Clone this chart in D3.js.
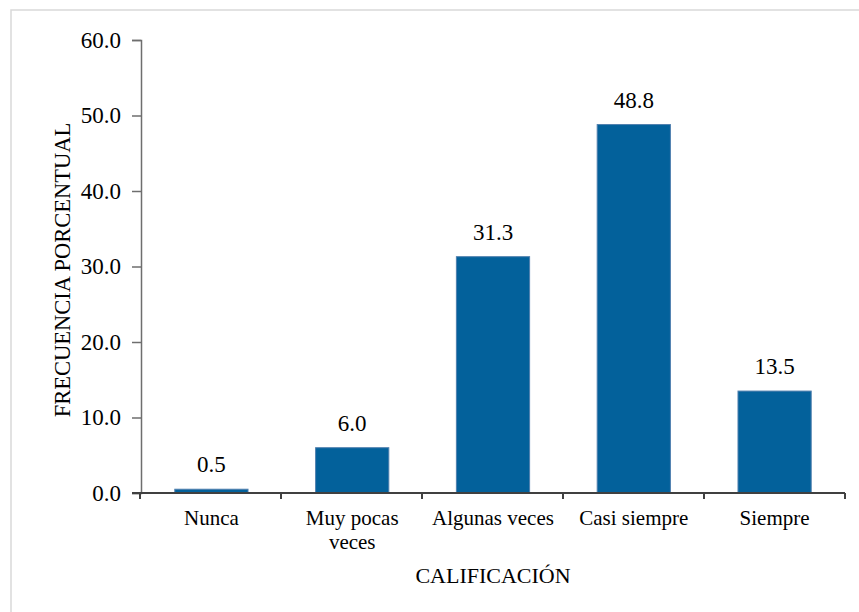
<!DOCTYPE html>
<html>
<head>
<meta charset="utf-8">
<script src="https://cdn.jsdelivr.net/npm/d3@7"></script>
<style>
  html, body { margin: 0; padding: 0; background: #fff; }
  svg { display: block; }
  text { font-family: "Liberation Serif", "Times New Roman", serif; fill: #000; }
</style>
</head>
<body>
<svg id="chart" width="859" height="612"></svg>
<script>
// Frecuencia porcentual por calificación
const categories = ["Nunca", "Muy pocas veces", "Algunas veces", "Casi siempre", "Siempre"];
const categoryLines = [["Nunca"], ["Muy pocas", "veces"], ["Algunas veces"], ["Casi siempre"], ["Siempre"]];
const values = [0.5, 6.0, 31.3, 48.8, 13.5];
const yTicks = [0, 10, 20, 30, 40, 50, 60];
const xTitle = "CALIFICACIÓN";
const yTitle = "FRECUENCIA PORCENTUAL";

const serif = "Liberation Serif, Times New Roman, serif";
const svg = d3.select("#chart");
const plot = { left: 141, right: 845, top: 40, bottom: 493 };

// chart area frame
svg.append("rect")
  .attr("x", 11).attr("y", 10)
  .attr("width", 900).attr("height", 700)
  .attr("fill", "none").attr("stroke", "#d9d9d9").attr("stroke-width", 1.5);

const x = d3.scaleBand()
  .domain(categories)
  .range([plot.left, plot.right])
  .paddingInner(0.48).paddingOuter(0.24);

const y = d3.scaleLinear().domain([0, 60]).range([plot.bottom, plot.top]);

// bars
svg.append("g").selectAll("rect")
  .data(values)
  .join("rect")
  .attr("x", (d, i) => x(categories[i]))
  .attr("y", d => y(d))
  .attr("width", x.bandwidth())
  .attr("height", d => y(0) - y(d))
  .attr("fill", "#03619b")
  .attr("stroke", "#4f7fae")
  .attr("stroke-width", 1);

// value labels
svg.append("g").selectAll("text")
  .data(values)
  .join("text")
  .attr("x", (d, i) => x(categories[i]) + x.bandwidth() / 2)
  .attr("y", d => y(d) - 17)
  .attr("text-anchor", "middle")
  .attr("font-family", serif)
  .attr("font-size", 23)
  .text(d => d.toFixed(1));

// y axis
const yAxis = d3.axisLeft(y)
  .tickValues(yTicks)
  .tickFormat(d => d.toFixed(1))
  .tickSize(9)
  .tickPadding(11);
const gy = svg.append("g").attr("transform", `translate(${plot.left},0)`).call(yAxis);
gy.attr("font-family", serif);
gy.select(".domain").attr("stroke", "#6e6e6e").attr("stroke-width", 1.5);
gy.selectAll(".tick line").attr("stroke", "#6e6e6e").attr("stroke-width", 1.5);
gy.selectAll(".tick text")
  .attr("font-size", 23)
  .attr("fill", "#000")
  .attr("font-family", serif);

// x axis: baseline with boundary ticks between categories
const bounds = d3.range(categories.length + 1).map(i => plot.left - 1 + i * (plot.right - plot.left + 1) / categories.length);
svg.append("line")
  .attr("x1", plot.left - 9).attr("x2", plot.right)
  .attr("y1", y(0)).attr("y2", y(0))
  .attr("stroke", "#404040").attr("stroke-width", 2);
svg.append("g").selectAll("line")
  .data(bounds)
  .join("line")
  .attr("x1", d => d).attr("x2", d => d)
  .attr("y1", y(0)).attr("y2", y(0) + 6)
  .attr("stroke", "#404040").attr("stroke-width", 2);

// category labels
const cat = svg.append("g").selectAll("text")
  .data(categoryLines)
  .join("text")
  .attr("x", (d, i) => x(categories[i]) + x.bandwidth() / 2)
  .attr("y", 525)
  .attr("text-anchor", "middle")
  .attr("font-family", serif)
  .attr("font-size", 21);
cat.selectAll("tspan")
  .data(d => d)
  .join("tspan")
  .attr("x", function () { return d3.select(this.parentNode).attr("x"); })
  .attr("dy", (d, i) => i === 0 ? 0 : 24)
  .text(d => d);

// axis titles
svg.append("text")
  .attr("x", (plot.left + plot.right) / 2)
  .attr("y", 583)
  .attr("text-anchor", "middle")
  .attr("font-family", serif)
  .attr("font-size", 22)
  .text(xTitle);

svg.append("text")
  .attr("transform", `translate(70,270) rotate(-90)`)
  .attr("text-anchor", "middle")
  .attr("font-family", serif)
  .attr("font-size", 22.5)
  .text(yTitle);
</script>
</body>
</html>
